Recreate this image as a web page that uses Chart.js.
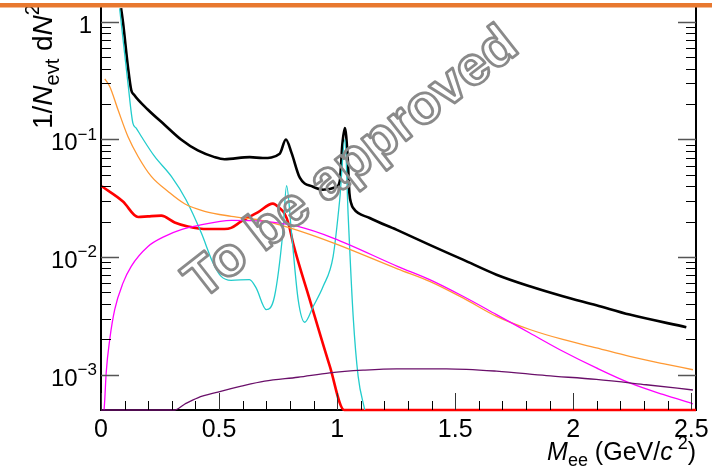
<!DOCTYPE html>
<html>
<head>
<meta charset="utf-8">
<script src="https://cdn.jsdelivr.net/npm/chart.js@4.4.1/dist/chart.umd.min.js"></script>
<style>
  html, body { margin: 0; padding: 0; background: #fff; }
</style>
</head>
<body>
<canvas id="chart" width="712" height="466"></canvas>
<script>
// values (x in GeV/c^2, y = 1/N dN/dM)
const blackX = [0.085, 0.093, 0.114, 0.128, 0.14, 0.199, 0.27, 0.339, 0.41, 0.481, 0.523, 0.63, 0.686, 0.757, 0.783, 0.807, 0.842, 0.898, 0.94, 0.997, 1.012, 1.022, 1.033, 1.044, 1.052, 1.06, 1.068, 1.138, 1.251, 1.392, 1.533, 1.675, 1.816, 1.956, 2.098, 2.239, 2.479];
const blackY = [1.31, 1.0, 0.417, 0.264, 0.24, 0.179, 0.133, 0.1, 0.0807, 0.0708, 0.068, 0.0708, 0.0695, 0.0758, 0.1, 0.077, 0.0473, 0.0396, 0.0374, 0.0394, 0.045, 0.09, 0.125, 0.075, 0.035, 0.0285, 0.0261, 0.0215, 0.0171, 0.0127, 0.0095, 0.00708, 0.00564, 0.00464, 0.00389, 0.00324, 0.00253];

const cyanX = [0.079, 0.114, 0.135, 0.149, 0.171, 0.227, 0.298, 0.36, 0.425, 0.474, 0.509, 0.551, 0.629, 0.657, 0.70, 0.735, 0.770, 0.786, 0.807, 0.835, 0.863, 0.899, 0.941, 0.983, 1.011, 1.033, 1.047, 1.068, 1.089, 1.117];
const cyanY = [1.3, 0.303, 0.138, 0.125, 0.106, 0.0717, 0.0485, 0.0307, 0.016, 0.00896, 0.00685, 0.00634, 0.00643, 0.00546, 0.00357, 0.00464, 0.016, 0.0404, 0.016, 0.00435, 0.00279, 0.00381, 0.00564, 0.0101, 0.0307, 0.1, 0.0222, 0.00313, 0.00097, 0.0005];

const orangeX = [0.016, 0.037, 0.072, 0.114, 0.157, 0.213, 0.284, 0.354, 0.439, 0.552, 0.68, 0.80, 0.983, 1.258, 1.392, 1.533, 1.675, 1.816, 1.956, 2.098, 2.239, 2.38, 2.507];
const orangeY = [0.328, 0.282, 0.179, 0.106, 0.0717, 0.0485, 0.0361, 0.0284, 0.0245, 0.0222, 0.0205, 0.0177, 0.0132, 0.0079, 0.00622, 0.00449, 0.00313, 0.00242, 0.00199, 0.00169, 0.00143, 0.00124, 0.0011];

const magentaX = [0.013, 0.016, 0.022, 0.037, 0.058, 0.093, 0.128, 0.199, 0.27, 0.34, 0.41, 0.552, 0.693, 0.834, 0.983, 1.258, 1.392, 1.533, 1.675, 1.816, 1.956, 2.098, 2.239, 2.38, 2.507];
const magentaY = [0.0005, 0.000615, 0.00104, 0.00199, 0.00357, 0.006, 0.00834, 0.0123, 0.015, 0.0171, 0.0185, 0.0205, 0.0201, 0.0182, 0.0145, 0.0083, 0.00643, 0.00464, 0.00324, 0.00226, 0.00158, 0.00114, 0.00085, 0.000678, 0.000565];

const purpleX = [0, 0.31, 0.354, 0.41, 0.495, 0.594, 0.693, 0.834, 0.969, 1.11, 1.251, 1.463, 1.675, 1.886, 2.098, 2.309, 2.507];
const purpleY = [0.0005, 0.0005, 0.00056, 0.000635, 0.00071, 0.000797, 0.00088, 0.00095, 0.001035, 0.00109, 0.00112, 0.00112, 0.00107, 0.00098, 0.00091, 0.00082, 0.00074];

const redX = [0.003, 0.093, 0.157, 0.199, 0.255, 0.312, 0.368, 0.453, 0.523, 0.551, 0.594, 0.664, 0.728, 0.757, 0.777, 0.795, 0.814, 0.884, 0.969, 1.03, 2.52];
const redY = [0.04, 0.0297, 0.0219, 0.0222, 0.0225, 0.0197, 0.0182, 0.0173, 0.0173, 0.0177, 0.0201, 0.024, 0.0285, 0.026, 0.0235, 0.019, 0.013, 0.00435, 0.00118, 0.0005, 0.0005];

const xTicks = [0, 0.5, 1, 1.5, 2, 2.5];
const xTickLabels = ['0', '0.5', '1', '1.5', '2', '2.5'];
const yDecades = [-3, -2, -1, 0];

const FONT = "'Liberation Sans', Arial, sans-serif";

function pts(xs, ys) {
    return xs.map((x, i) => ({ x: x, y: ys[i] }));
}

function series(xs, ys, color, width) {
    return {
        data: pts(xs, ys),
        borderColor: color,
        borderWidth: width,
        pointRadius: 0,
        fill: false,
        cubicInterpolationMode: 'monotone',
        clip: { left: 0, top: 0, right: 0, bottom: 2 }
    };
}

// draw text pieces (normal / italic / sub / sup) one after the other
function fontFor(p, size) {
    const s = (p.k === 'sub' || p.k === 'sup') ? Math.round(size * 0.7) : size;
    return (p.i ? 'italic ' : '') + s + 'px ' + FONT;
}
function pieceWidth(ctx, p, size) {
    ctx.font = fontFor(p, size);
    return ctx.measureText(p.t).width;
}
function drawPieces(ctx, pieces, size, x, y) {
    let cx = x;
    pieces.forEach(p => {
        ctx.font = fontFor(p, size);
        let dy = 0;
        if (p.k === 'sub') dy = size * 0.25;
        if (p.k === 'sup') dy = -size * 0.45;
        ctx.fillText(p.t, cx, y + dy);
        cx += ctx.measureText(p.t).width;
    });
}

const rootStyle = {
    id: 'rootStyle',
    beforeDatasetsDraw(chart) {
        const { ctx, chartArea: a } = chart;
        ctx.save();
        ctx.strokeStyle = '#000';
        ctx.lineWidth = 2;
        ctx.beginPath();
        ctx.moveTo(a.left, a.top); ctx.lineTo(a.left, a.bottom);
        ctx.lineTo(a.right, a.bottom); ctx.lineTo(a.right, a.top);
        ctx.stroke();
        ctx.restore();
    },
    afterDatasetsDraw(chart) {
        const { ctx, chartArea: a, scales } = chart;
        const xs = scales.x, ys = scales.y;
        ctx.save();

        // y ticks, both sides, inward
        yDecades.forEach(d => {
            for (let k = 1; k <= 9; k++) {
                const v = k * Math.pow(10, d);
                if (v < ys.min || v > ys.max) continue;
                const py = Math.round(ys.getPixelForValue(v)) + 0.5;
                const len = k === 1 ? 18 : 10;
                ctx.strokeStyle = k === 1 ? '#555' : '#000';
                ctx.lineWidth = k === 1 ? 1.5 : 1;
                ctx.beginPath();
                ctx.moveTo(a.left, py); ctx.lineTo(a.left + len, py);
                ctx.moveTo(a.right, py); ctx.lineTo(a.right - len, py);
                ctx.stroke();
            }
        });
        // x ticks, minor every 0.1
        for (let i = 0; i <= 25; i++) {
            const v = i / 10;
            const px = Math.round(xs.getPixelForValue(v)) + 0.5;
            const major = i % 5 === 0;
            ctx.strokeStyle = major ? '#333' : '#000';
            ctx.lineWidth = 1;
            ctx.beginPath();
            ctx.moveTo(px, a.bottom); ctx.lineTo(px, a.bottom - (major ? 17 : 9));
            ctx.stroke();
        }

        // tick labels
        ctx.fillStyle = '#000';
        ctx.textBaseline = 'alphabetic';
        ctx.textAlign = 'center';
        ctx.font = '25px ' + FONT;
        xTicks.forEach((v, i) => {
            ctx.fillText(xTickLabels[i], xs.getPixelForValue(v), a.bottom + 27);
        });
        ctx.textAlign = 'left';
        yDecades.forEach(d => {
            const py = ys.getPixelForValue(Math.pow(10, d)) + 11;
            if (d === 0) {
                ctx.font = '24px ' + FONT;
                ctx.textAlign = 'right';
                ctx.fillText('1', 92, py);
                ctx.textAlign = 'left';
                return;
            }
            const pieces = [{ t: '10' }, { t: '\u2212' + (-d), k: 'sup' }];
            const w = pieces.reduce((s, p) => s + pieceWidth(ctx, p, 24), 0);
            drawPieces(ctx, pieces, 24, 97 - w, py);
        });

        // x title, right aligned
        const xt = [{ t: 'M', i: true }, { t: 'ee', k: 'sub' }, { t: ' (GeV/' }, { t: 'c', i: true }, { t: ' 2', k: 'sup' }, { t: ')' }];
        const xw = xt.reduce((s, p) => s + pieceWidth(ctx, p, 25), 0);
        drawPieces(ctx, xt, 25, 696 - xw, 460);

        // y title, rotated (runs off the top like the original)
        ctx.save();
        ctx.translate(52, 129);
        ctx.rotate(-Math.PI / 2);
        const yt = [{ t: '1/' }, { t: 'N', i: true }, { t: 'evt', k: 'sub' }, { t: ' d' }, { t: 'N', i: true }, { t: '2', k: 'sup' }];
        drawPieces(ctx, yt, 28, 0, 0);
        ctx.restore();

        // watermark
        ctx.save();
        ctx.translate(352, 164);
        ctx.rotate(-38 * Math.PI / 180);
        ctx.font = 'bold 55px ' + FONT;
        ctx.textAlign = 'center';
        ctx.textBaseline = 'middle';
        ctx.strokeStyle = '#8a8a8a';
        ctx.lineWidth = 2.8;
        ctx.lineJoin = 'round';
        ctx.strokeText('To be approved', 0, 0);
        ctx.restore();

        // orange band on top
        ctx.fillStyle = '#e8782f';
        ctx.fillRect(0, 3, 712, 4.5);
        ctx.restore();
    }
};

new Chart(document.getElementById('chart').getContext('2d'), {
    type: 'line',
    data: {
        datasets: [
            series(purpleX, purpleY, '#6a0f6a', 1.3),
            series(magentaX, magentaY, '#ff00ff', 1.3),
            series(orangeX, orangeY, '#ff9933', 1.3),
            series(cyanX, cyanY, '#22cccc', 1.3),
            series(redX, redY, '#ff0000', 2.6),
            series(blackX, blackY, '#000000', 2.6)
        ]
    },
    options: {
        responsive: false,
        animation: false,
        layout: { padding: { left: 101, right: 16, top: 7, bottom: 56 } },
        plugins: { legend: { display: false }, tooltip: { enabled: false } },
        scales: {
            x: { type: 'linear', min: 0, max: 2.52, display: false },
            y: { type: 'logarithmic', min: 0.0005, max: 1.34, display: false }
        }
    },
    plugins: [rootStyle]
});
</script>
</body>
</html>
